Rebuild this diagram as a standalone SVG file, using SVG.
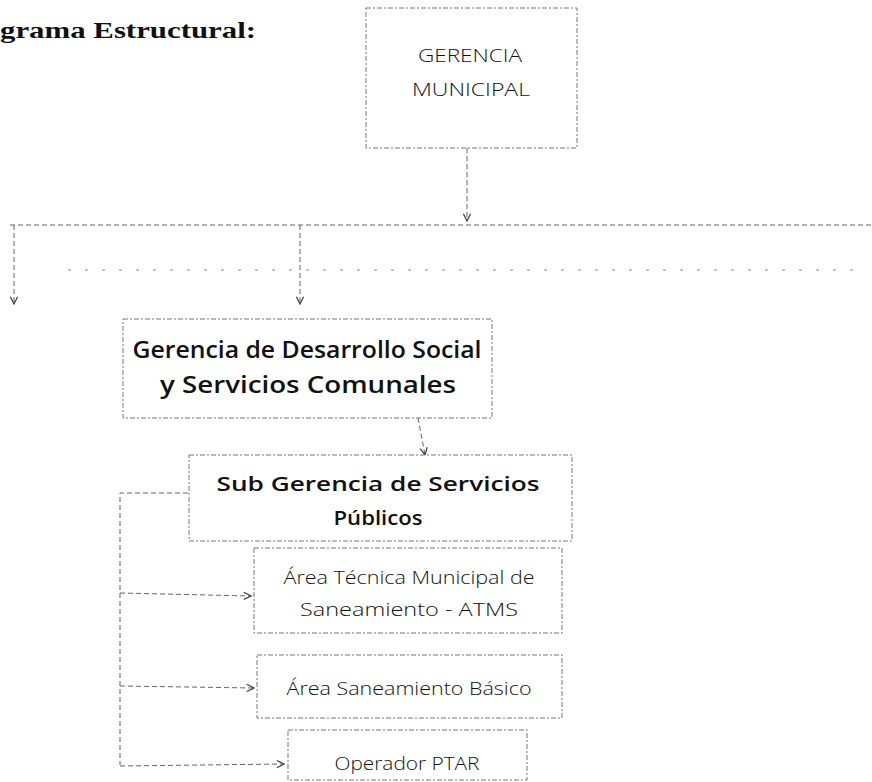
<svg xmlns="http://www.w3.org/2000/svg" width="872" height="782" viewBox="0 0 872 782">
  <style>
    .box { fill: #ffffff; stroke: #777777; stroke-width: 1; stroke-dasharray: 5 2 2 2; }
    .wire { fill: none; stroke: #666666; stroke-width: 1; stroke-dasharray: 5 3; }
    .faint { fill: none; stroke: #888888; stroke-width: 1; stroke-dasharray: 3 14; }
    .title { font-family: "Liberation Serif", "DejaVu Serif", serif; font-weight: bold; font-size: 24px; fill: #111111; }
    .lbl { font-family: "Open Sans", "Liberation Sans", sans-serif; fill: #111111; text-anchor: middle; }
    .light { font-weight: 300; }
    .semi { font-weight: 600; }
  </style>
  <defs>
    <marker id="arrow" viewBox="0 0 10 10" refX="9" refY="5" markerWidth="9" markerHeight="9" markerUnits="userSpaceOnUse" orient="auto">
      <path d="M1,1 L9,5 L1,9" fill="none" stroke="#444444" stroke-width="1.4"/>
    </marker>
  </defs>

  <rect width="872" height="782" fill="#ffffff"/>

  <text class="title" x="0" y="38" textLength="256" lengthAdjust="spacingAndGlyphs">grama Estructural:</text>

  <!-- connectors -->
  <g id="connectors">
    <line class="wire" x1="467" y1="148" x2="467" y2="221" marker-end="url(#arrow)"/>
    <line class="wire" x1="10" y1="225" x2="872" y2="225"/>
    <line class="faint" x1="68" y1="270" x2="862" y2="270"/>
    <line class="wire" x1="14" y1="225" x2="14" y2="304" marker-end="url(#arrow)"/>
    <line class="wire" x1="300" y1="225" x2="300" y2="304" marker-end="url(#arrow)"/>
    <line class="wire" x1="418" y1="418" x2="425" y2="455" marker-end="url(#arrow)"/>
    <polyline class="wire" points="188,493 120,493 120,765"/>
    <line class="wire" x1="120" y1="593" x2="251" y2="596" marker-end="url(#arrow)"/>
    <line class="wire" x1="120" y1="686" x2="254" y2="688" marker-end="url(#arrow)"/>
    <line class="wire" x1="120" y1="766" x2="284" y2="764" marker-end="url(#arrow)"/>
  </g>

  <g id="gerencia-municipal">
    <rect class="box" x="366" y="8" width="211" height="140"/>
    <text class="lbl light" x="470" y="62" font-size="19" textLength="104" lengthAdjust="spacingAndGlyphs">GERENCIA</text>
    <text class="lbl light" x="471" y="96" font-size="19" textLength="118" lengthAdjust="spacingAndGlyphs">MUNICIPAL</text>
  </g>

  <g id="gerencia-desarrollo-social">
    <rect class="box" x="123" y="319" width="369" height="99"/>
    <text class="lbl semi" x="307" y="358" font-size="23" textLength="349" lengthAdjust="spacingAndGlyphs">Gerencia de Desarrollo Social</text>
    <text class="lbl semi" x="308" y="393" font-size="23" textLength="296" lengthAdjust="spacingAndGlyphs">y Servicios Comunales</text>
  </g>

  <g id="sub-gerencia-servicios-publicos">
    <rect class="box" x="189" y="455" width="383" height="86"/>
    <text class="lbl semi" x="378" y="491" font-size="20" textLength="323" lengthAdjust="spacingAndGlyphs">Sub Gerencia de Servicios</text>
    <text class="lbl semi" x="378" y="525" font-size="20" textLength="89" lengthAdjust="spacingAndGlyphs">Públicos</text>
  </g>

  <g id="area-tecnica-atms">
    <rect class="box" x="254" y="548" width="308" height="85"/>
    <text class="lbl light" x="409" y="584" font-size="18" textLength="251" lengthAdjust="spacingAndGlyphs">Área Técnica Municipal de</text>
    <text class="lbl light" x="409" y="616" font-size="18" textLength="218" lengthAdjust="spacingAndGlyphs">Saneamiento - ATMS</text>
  </g>

  <g id="area-saneamiento-basico">
    <rect class="box" x="257" y="655" width="305" height="63"/>
    <text class="lbl light" x="409" y="695" font-size="18" textLength="245" lengthAdjust="spacingAndGlyphs">Área Saneamiento Básico</text>
  </g>

  <g id="operador-ptar">
    <rect class="box" x="288" y="730" width="239" height="50"/>
    <text class="lbl light" x="407" y="770" font-size="18" textLength="145" lengthAdjust="spacingAndGlyphs">Operador PTAR</text>
  </g>
</svg>
